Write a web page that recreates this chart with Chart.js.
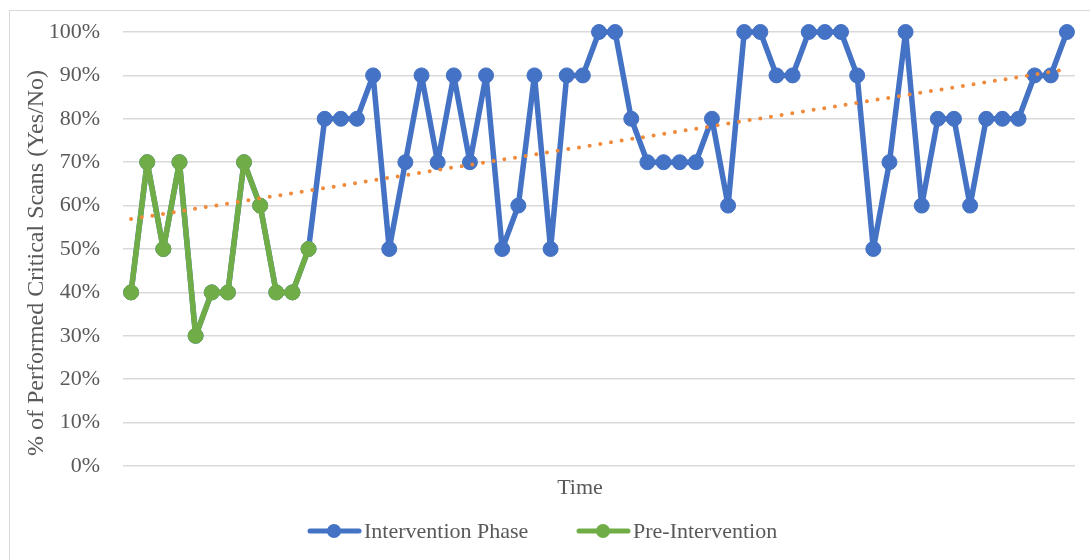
<!DOCTYPE html>
<html>
<head>
<meta charset="utf-8">
<script src="https://cdn.jsdelivr.net/npm/chart.js@4.4.1/dist/chart.umd.min.js"></script>
<style>
  html, body { margin: 0; padding: 0; background: #ffffff; }
  #wrap { width: 1090px; height: 560px; }
</style>
</head>
<body>
<div id="wrap"><canvas id="chart" width="1090" height="560"></canvas></div>
<script>
// Observation index along the time axis (59 sessions)
const sessions = [
  1, 2, 3, 4, 5, 6, 7, 8, 9, 10, 11, 12, 13, 14, 15, 16, 17, 18, 19, 20,
  21, 22, 23, 24, 25, 26, 27, 28, 29, 30, 31, 32, 33, 34, 35, 36, 37, 38, 39, 40,
  41, 42, 43, 44, 45, 46, 47, 48, 49, 50, 51, 52, 53, 54, 55, 56, 57, 58, 59
];

// % of performed critical scans, full series (plotted in blue)
const interventionPhase = [
  40, 70, 50, 70, 30, 40, 40, 70, 60, 40, 40, 50,
  80, 80, 80, 90, 50, 70, 90, 70, 90, 70, 90, 50, 60, 90, 50, 90, 90, 100,
  100, 80, 70, 70, 70, 70, 80, 60, 100, 100, 90, 90, 100, 100, 100, 90, 50, 70,
  100, 60, 80, 80, 60, 80, 80, 80, 90, 90, 100
];

// Pre-intervention sessions (first 12 observations, plotted in green)
const preIntervention = [40, 70, 50, 70, 30, 40, 40, 70, 60, 40, 40, 50];

// Linear trend line end points (first and last session)
const trendStart = 56.9;
const trendEnd = 91.4;

const yTicks = [0, 10, 20, 30, 40, 50, 60, 70, 80, 90, 100];

const BLUE = '#4472C4';
const GREEN = '#70AD47';
const ORANGE = '#F08A3A';
const TEXT = '#595959';
const FONT = '"Liberation Serif", "Times New Roman", serif';

const trendData = sessions.map((s, i) =>
  i === 0 ? trendStart : (i === sessions.length - 1 ? trendEnd : null));
const preData = sessions.map((s, i) => i < preIntervention.length ? preIntervention[i] : null);

// Frame, axis titles and legend drawn around the plot area
const decorations = {
  id: 'decorations',
  beforeDraw(chart) {
    const ctx = chart.ctx;
    ctx.save();
    ctx.fillStyle = '#ffffff';
    ctx.fillRect(0, 0, chart.width, chart.height);
    ctx.strokeStyle = '#d9d9d9';
    ctx.lineWidth = 1;
    ctx.strokeRect(9.5, 10.5, chart.width + 50, chart.height + 50);
    ctx.restore();
  },
  afterDraw(chart) {
    const ctx = chart.ctx;
    ctx.save();
    ctx.fillStyle = TEXT;
    ctx.textAlign = 'center';
    ctx.textBaseline = 'middle';
    // x axis title
    ctx.font = '22px ' + FONT;
    ctx.fillText('Time', 580, 488);
    // y axis title
    ctx.save();
    ctx.font = '24px ' + FONT;
    ctx.translate(37, 263);
    ctx.rotate(-Math.PI / 2);
    ctx.fillText('% of Performed Critical Scans (Yes/No)', 0, 0);
    ctx.restore();

    // legend
    ctx.font = '22px ' + FONT;
    const items = [
      { label: 'Intervention Phase', color: BLUE, x: 308 },
      { label: 'Pre-Intervention', color: GREEN, x: 577 }
    ];
    const ly = 531;
    items.forEach(it => {
      ctx.strokeStyle = it.color;
      ctx.lineWidth = 5;
      ctx.lineCap = 'round';
      ctx.beginPath();
      ctx.moveTo(it.x + 2, ly);
      ctx.lineTo(it.x + 51, ly);
      ctx.stroke();
      ctx.fillStyle = it.color;
      ctx.beginPath();
      ctx.arc(it.x + 26, ly, 7, 0, Math.PI * 2);
      ctx.fill();
      ctx.fillStyle = TEXT;
      ctx.textAlign = 'left';
      ctx.fillText(it.label, it.x + 56, ly + 1);
    });
    ctx.restore();
  }
};

new Chart(document.getElementById('chart'), {
  type: 'line',
  data: {
    labels: sessions,
    datasets: [
      {
        label: 'Linear (Intervention Phase)',
        data: trendData,
        spanGaps: true,
        borderColor: ORANGE,
        borderWidth: 4,
        borderDash: [0, 10.8],
        borderCapStyle: 'round',
        pointRadius: 0,
        pointHoverRadius: 0,
        fill: false,
        order: 0,
        clip: false
      },
      {
        label: 'Pre-Intervention',
        data: preData,
        borderColor: GREEN,
        backgroundColor: GREEN,
        borderWidth: 5.5,
        borderJoinStyle: 'round',
        borderCapStyle: 'round',
        pointRadius: 7.5,
        pointBorderWidth: 1,
        pointBorderColor: GREEN,
        pointBackgroundColor: GREEN,
        tension: 0,
        fill: false,
        order: 1,
        clip: false
      },
      {
        label: 'Intervention Phase',
        data: interventionPhase,
        borderColor: BLUE,
        backgroundColor: BLUE,
        borderWidth: 5.5,
        borderJoinStyle: 'round',
        borderCapStyle: 'round',
        pointRadius: 7.5,
        pointBorderWidth: 1,
        pointBorderColor: BLUE,
        pointBackgroundColor: BLUE,
        tension: 0,
        fill: false,
        order: 2,
        clip: false
      }
    ]
  },
  options: {
    responsive: false,
    animation: false,
    devicePixelRatio: 1,
    layout: { padding: { left: 0, right: 15, top: 32, bottom: 0 } },
    plugins: {
      legend: { display: false },
      tooltip: { enabled: false },
      title: { display: false }
    },
    scales: {
      x: {
        type: 'category',
        offset: true,
        grid: { display: false, drawTicks: false },
        border: { display: false },
        ticks: { display: false },
        afterFit(scale) { scale.height = 94; }
      },
      y: {
        min: 0,
        max: 100,
        afterBuildTicks(scale) { scale.ticks = yTicks.map(v => ({ value: v })); },
        grid: { color: '#d9d9d9', lineWidth: 1.5, drawTicks: false },
        border: { display: false },
        ticks: {
          padding: 23,
          color: TEXT,
          font: { family: FONT, size: 22 },
          callback: v => v + '%'
        },
        afterFit(scale) {
          scale.width = 123;
          scale.paddingTop = 0;
          scale.paddingBottom = 0;
        }
      }
    }
  },
  plugins: [decorations]
});
</script>
</body>
</html>
